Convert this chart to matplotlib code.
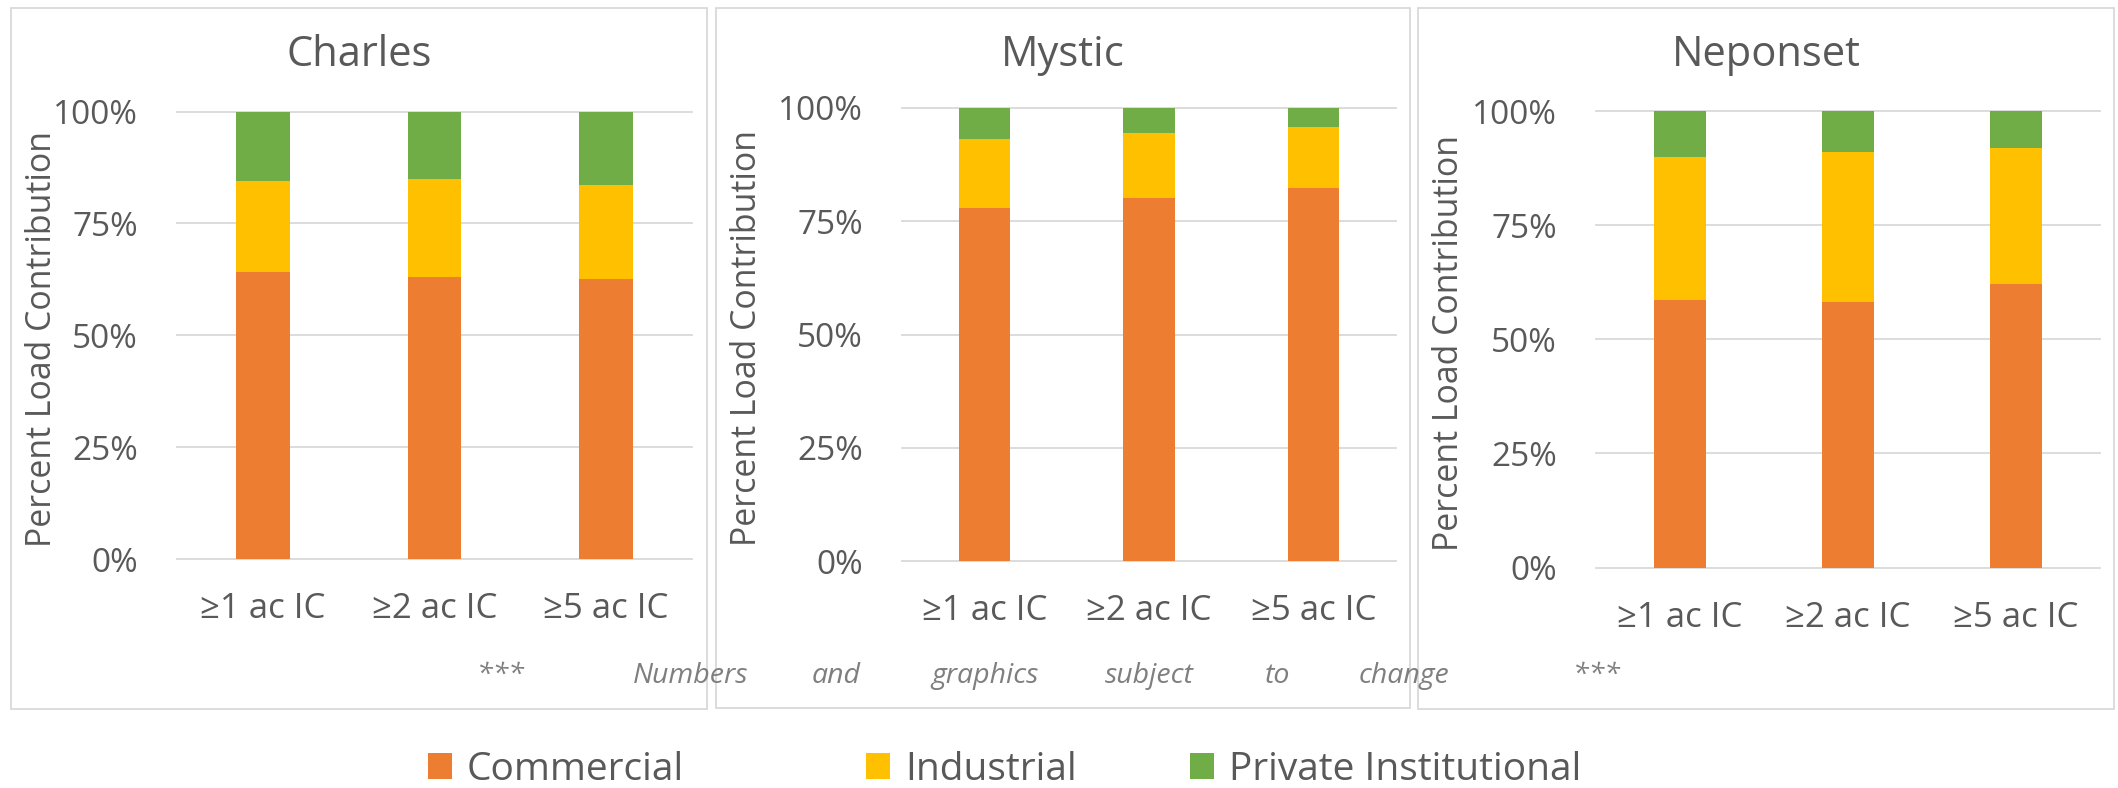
import matplotlib
matplotlib.use("Agg")
import matplotlib.pyplot as plt
from matplotlib.patches import Rectangle
import numpy as np

plt.rcParams['font.family'] = ['Open Sans', 'DejaVu Sans']

# ---- data ----
categories = ["≥1 ac IC", "≥2 ac IC", "≥5 ac IC"]
rivers = ["Charles", "Mystic", "Neponset"]
commercial = {
    "Charles": [0.642, 0.631, 0.625],
    "Mystic": [0.780, 0.801, 0.824],
    "Neponset": [0.587, 0.581, 0.620],
}
industrial = {
    "Charles": [0.202, 0.218, 0.211],
    "Mystic": [0.152, 0.144, 0.133],
    "Neponset": [0.312, 0.329, 0.300],
}
private_inst = {
    "Charles": [0.156, 0.151, 0.164],
    "Mystic": [0.068, 0.055, 0.043],
    "Neponset": [0.101, 0.090, 0.080],
}
series_names = ["Commercial", "Industrial", "Private Institutional"]
yticks = [0, 0.25, 0.5, 0.75, 1.0]
ytick_labels = ["0%", "25%", "50%", "75%", "100%"]
ylabel = "Percent Load Contribution"
footnote_words = ["***", "Numbers", "and", "graphics", "subject", "to", "change", "***"]

# ---- style ----
colors = ["#ED7D31", "#FFC000", "#70AD47"]
text_color = "#595959"
grid_color = "#D9D9D9"

W, H = 2118, 788
fig = plt.figure(figsize=(W / 100, H / 100), dpi=100)
fig.patch.set_facecolor("white")

def fx(px):
    return px / W

def fy(py):
    return 1 - py / H

# panel frames (left, top, right, bottom) in pixels
panels = [(11, 8, 707, 709), (716, 8, 1410, 708), (1418, 8, 2114, 709)]
# plot areas (left, top, right, bottom)
plots = [(177, 111.6, 692, 559), (902, 108, 1396, 561), (1596, 111, 2100, 567.5)]
ylabel_x = [42, 747, 1449]

for (l, t, r, b) in panels:
    fig.patches.append(Rectangle((fx(l), fy(b)), fx(r) - fx(l), fy(t) - fy(b),
                                 transform=fig.transFigure, fill=False,
                                 edgecolor=grid_color, linewidth=1.3, zorder=0))

x = np.arange(len(categories))
bar_w = 0.313
handles = None
for i, river in enumerate(rivers):
    l, t, r, b = plots[i]
    ax = fig.add_axes([fx(l), fy(b), fx(r) - fx(l), fy(t) - fy(b)])
    ax.set_facecolor("none")
    c = np.array(commercial[river])
    ind = np.array(industrial[river])
    p = np.array(private_inst[river])
    b1 = ax.bar(x, c, bar_w, color=colors[0], zorder=3)
    b2 = ax.bar(x, ind, bar_w, bottom=c, color=colors[1], zorder=3)
    b3 = ax.bar(x, p, bar_w, bottom=c + ind, color=colors[2], zorder=3)
    if handles is None:
        handles = [b1, b2, b3]
    ax.set_xlim(-0.5, len(categories) - 0.5)
    ax.set_ylim(0, 1)
    ax.set_yticks(yticks)
    ax.set_yticklabels(ytick_labels)
    ax.set_xticks(x)
    ax.set_xticklabels(categories)
    for s in ax.spines.values():
        s.set_visible(False)
    ax.yaxis.grid(True, color=grid_color, linewidth=1.3, zorder=0)
    ax.set_axisbelow(True)
    ax.tick_params(axis="y", length=0, pad=28, labelsize=24, labelcolor=text_color)
    ax.tick_params(axis="x", length=0, pad=24, labelsize=25, labelcolor=text_color)
    for gl in ax.get_ygridlines():
        gl.set_clip_on(False)
    # title
    pl, pt, pr, pb = panels[i]
    fig.text(fx((pl + pr) / 2), fy(55), river, ha="center", va="center",
             fontsize=30, color=text_color)
    fig.text(fx(ylabel_x[i]), fy((t + b) / 2 + 4), ylabel, rotation=90,
             ha="center", va="center", fontsize=24.4, color=text_color)

# footnote
word_x = [500, 691, 836, 985, 1149, 1277, 1404, 1596]
for wx, w in zip(word_x, footnote_words):
    fig.text(fx(wx), fy(676), w, ha="center", va="center", fontsize=20.5,
             style="italic", color="#7F7F7F")

# legend (three separately positioned entries)
legend_x = [428, 866, 1190]
for k in range(3):
    leg = fig.legend([handles[k]], [series_names[k]], loc="center left",
                     bbox_to_anchor=(fx(legend_x[k]), fy(770)),
                     frameon=False, fontsize=28, borderpad=0, borderaxespad=0,
                     handlelength=0.62, handleheight=0.65, handletextpad=0.38,
                     labelcolor=text_color)

fig.savefig("out.png", dpi=100, facecolor="white")
